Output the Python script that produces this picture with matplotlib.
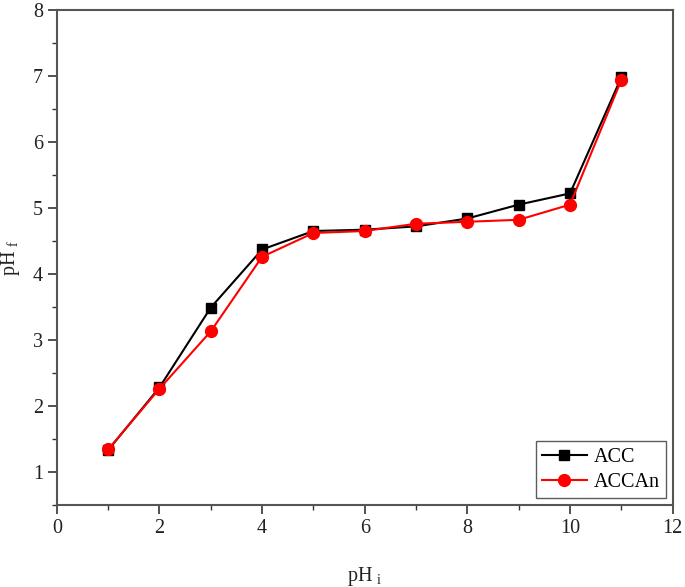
import matplotlib
matplotlib.use("Agg")
import matplotlib.pyplot as plt
from matplotlib.ticker import MultipleLocator

plt.rcParams['font.family'] = ['Liberation Serif', 'DejaVu Serif']
plt.rcParams['mathtext.fontset'] = 'custom'
plt.rcParams['mathtext.rm'] = 'Liberation Serif'
plt.rcParams['mathtext.it'] = 'Liberation Serif'

ph_initial = [1, 2, 3, 4, 5, 6, 7, 8, 9, 10, 11]
acc = [1.33, 2.28, 3.49, 4.37, 4.65, 4.67, 4.72, 4.84, 5.05, 5.22, 6.98]
accan = [1.34, 2.26, 3.13, 4.26, 4.62, 4.65, 4.76, 4.79, 4.82, 5.05, 6.94]

fig = plt.figure(figsize=(6.85, 5.87), dpi=100)
ax = fig.add_axes([0.083, 0.140, 0.899, 0.843])

ax.plot(ph_initial, acc, color='black', marker='s', markersize=7, linewidth=1.5, label='ACC')
ax.plot(ph_initial, accan, color='red', marker='o', markersize=8.5, linewidth=1.5, label='ACCAn')

ax.set_xlim(0, 12)
ax.set_ylim(0.5, 8)
ax.xaxis.set_major_locator(MultipleLocator(2))
ax.xaxis.set_minor_locator(MultipleLocator(1))
ax.yaxis.set_minor_locator(MultipleLocator(0.5))
ax.set_yticks([1, 2, 3, 4, 5, 6, 7, 8])

ax.tick_params(axis='both', which='major', direction='out', length=6.5, width=1.2, labelsize=14.5, colors='#333333', labelcolor='#222222')
ax.tick_params(axis='both', which='minor', direction='out', length=3.6, width=1.0, colors='#333333')
for s in ax.spines.values():
    s.set_linewidth(1.5)
    s.set_color('#555555')

ax.set_xlabel(r'pH $_{\mathregular{i}}$', fontsize=14.5, labelpad=20, color='#222222')
ax.set_ylabel(r'pH $_{\mathregular{f}}$', fontsize=14.5, labelpad=8, color='#222222')

leg = ax.legend(loc='lower right', fontsize=14.5, frameon=True, fancybox=False,
                edgecolor='#333333', handlelength=2.2, borderpad=0.3, labelspacing=0.3,
                handletextpad=0.35, borderaxespad=0.35)
leg.get_frame().set_linewidth(1.0)

fig.savefig('out.png', dpi=100)
